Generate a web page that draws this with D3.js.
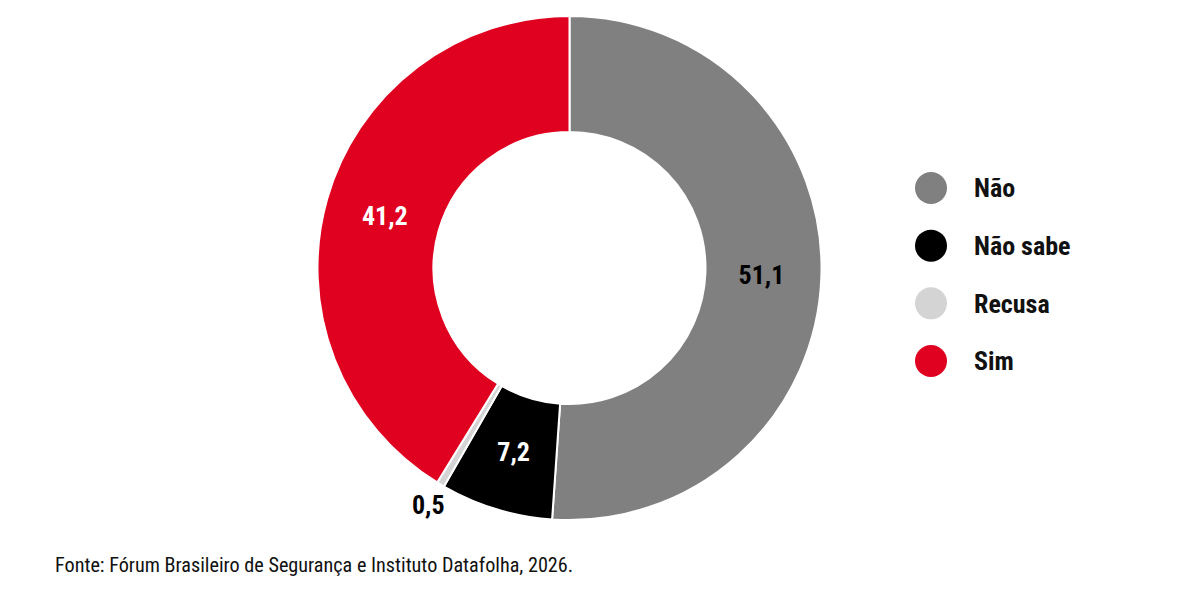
<!DOCTYPE html>
<html><head><meta charset="utf-8">
<script src="https://cdn.jsdelivr.net/npm/d3@7"></script>
<style>
html,body{margin:0;padding:0;background:#fff;}
text{font-family:"Roboto Condensed","Liberation Sans Narrow","DejaVu Sans Condensed","Open Sans",sans-serif;}
</style></head>
<body>
<svg id="c" width="1200" height="597"></svg>
<script>
const categories = ["Não", "Não sabe", "Recusa", "Sim"];
const values = [51.1, 7.2, 0.5, 41.2];
const labels = ["51,1", "7,2", "0,5", "41,2"];
const colors = ["#808080", "#000000", "#d4d4d4", "#e0001f"];
const labelColors = ["#000", "#fff", "#000", "#fff"];
const source = "Fonte: Fórum Brasileiro de Segurança e Instituto Datafolha, 2026.";

const svg = d3.select("#c");
const cx = 569.5, cy = 268, R = 252, r0 = 136;
const data = categories.map((c, i) => ({cat: c, value: values[i], label: labels[i], color: colors[i], lc: labelColors[i]}));
const pie = d3.pie().value(d => d.value).sort(null);
const arcs = pie(data);
const arc = d3.arc().innerRadius(r0).outerRadius(R);
const g = svg.append("g").attr("transform", `translate(${cx},${cy})`);
g.selectAll("path").data(arcs).enter().append("path")
  .attr("d", arc).attr("fill", d => d.data.color)
  .attr("stroke", "#fff").attr("stroke-width", 2);

const labelArc = d3.arc().innerRadius(192).outerRadius(192);
const outArc = d3.arc().innerRadius(276).outerRadius(276);
g.selectAll("text.v").data(arcs).enter().append("text")
  .attr("class", "v")
  .attr("transform", d => {
    const p = (d.data.value < 2 ? outArc : labelArc).centroid(d);
    return `translate(${p[0]},${p[1]})`;
  })
  .attr("text-anchor", "middle").attr("dy", "0.36em")
  .attr("font-size", 26).attr("font-weight", "bold")
  .attr("fill", d => d.data.lc)
  .text(d => d.data.label);

const leg = svg.append("g").attr("transform", "translate(931,188)");
const ly = d3.scalePoint().domain(categories).range([0, 173]);
const items = leg.selectAll("g").data(data).enter().append("g")
  .attr("transform", d => `translate(0,${ly(d.cat)})`);
items.append("circle").attr("r", 16).attr("fill", d => d.color);
items.append("text").attr("x", 43).attr("dy", "0.36em")
  .attr("font-size", 26).attr("font-weight", "bold").attr("fill", "#111")
  .text(d => d.cat);

svg.append("text").attr("x", 55).attr("y", 572)
  .attr("font-size", 20.2).attr("fill", "#111").text(source);
</script>
</body></html>
